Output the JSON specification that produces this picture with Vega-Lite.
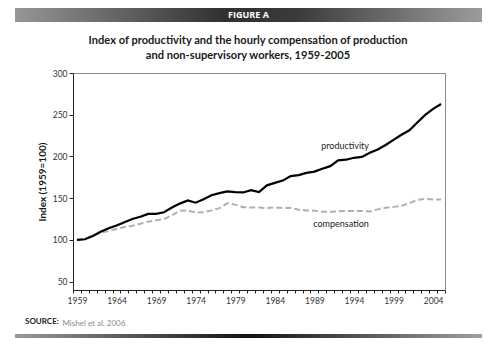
{
  "$schema": "https://vega.github.io/schema/vega-lite/v6.json",
  "padding": {"left": 15, "top": 8, "right": 0, "bottom": 0},
  "background": "white",
  "config": {"font": "Lato", "view": {"stroke": null}},
  "datasets": {
    "series": [
      {"year": 1959, "productivity": 100, "compensation": 100},
      {"year": 1960, "productivity": 100.8, "compensation": 100.8},
      {"year": 1961, "productivity": 104.7, "compensation": 105.5},
      {"year": 1962, "productivity": 109.7, "compensation": 108.5},
      {"year": 1963, "productivity": 114, "compensation": 110.8},
      {"year": 1964, "productivity": 117.3, "compensation": 113.1},
      {"year": 1965, "productivity": 121.2, "compensation": 115.4},
      {"year": 1966, "productivity": 125, "compensation": 117},
      {"year": 1967, "productivity": 127.7, "compensation": 119.3},
      {"year": 1968, "productivity": 131.2, "compensation": 121.9},
      {"year": 1969, "productivity": 131.2, "compensation": 123.5},
      {"year": 1970, "productivity": 133.1, "compensation": 125},
      {"year": 1971, "productivity": 138.9, "compensation": 129.6},
      {"year": 1972, "productivity": 143.5, "compensation": 135},
      {"year": 1973, "productivity": 147.3, "compensation": 135.4},
      {"year": 1974, "productivity": 144.6, "compensation": 132.7},
      {"year": 1975, "productivity": 148.8, "compensation": 133.1},
      {"year": 1976, "productivity": 153.5, "compensation": 135.4},
      {"year": 1977, "productivity": 156.1, "compensation": 138.1},
      {"year": 1978, "productivity": 158.1, "compensation": 143.8},
      {"year": 1979, "productivity": 157.3, "compensation": 142.3},
      {"year": 1980, "productivity": 156.9, "compensation": 139.2},
      {"year": 1981, "productivity": 159.6, "compensation": 138.9},
      {"year": 1982, "productivity": 157.3, "compensation": 138.8},
      {"year": 1983, "productivity": 165.4, "compensation": 138.1},
      {"year": 1984, "productivity": 168.4, "compensation": 138.9},
      {"year": 1985, "productivity": 171.1, "compensation": 138.1},
      {"year": 1986, "productivity": 176.5, "compensation": 138.5},
      {"year": 1987, "productivity": 177.6, "compensation": 136.2},
      {"year": 1988, "productivity": 180.3, "compensation": 135.4},
      {"year": 1989, "productivity": 181.9, "compensation": 135},
      {"year": 1990, "productivity": 185.3, "compensation": 133.9},
      {"year": 1991, "productivity": 188.4, "compensation": 133.9},
      {"year": 1992, "productivity": 195.3, "compensation": 134.2},
      {"year": 1993, "productivity": 196.1, "compensation": 134.6},
      {"year": 1994, "productivity": 198.4, "compensation": 134.6},
      {"year": 1995, "productivity": 199.5, "compensation": 134.6},
      {"year": 1996, "productivity": 204.5, "compensation": 134.2},
      {"year": 1997, "productivity": 208.4, "compensation": 136.6},
      {"year": 1998, "productivity": 213.7, "compensation": 138.5},
      {"year": 1999, "productivity": 219.9, "compensation": 139.6},
      {"year": 2000, "productivity": 226, "compensation": 140.8},
      {"year": 2001, "productivity": 231.4, "compensation": 143.9},
      {"year": 2002, "productivity": 240.6, "compensation": 148.1},
      {"year": 2003, "productivity": 249.8, "compensation": 149.2},
      {"year": 2004, "productivity": 257.1, "compensation": 148.4},
      {"year": 2005, "productivity": 262.9, "compensation": 148.4}
    ]
  },
  "bounds": "flush",
  "spacing": 44,
  "vconcat": [
    {
      "width": 467,
      "height": 14,
      "data": {"values": [{"label": "FIGURE A"}]},
      "layer": [
        {
          "mark": {
            "type": "rect",
            "color": {
              "gradient": "linear",
              "stops": [
                {"offset": 0, "color": "#969696"},
                {"offset": 0.45, "color": "#303030"},
                {"offset": 0.6, "color": "#3a3a3a"},
                {"offset": 1, "color": "#9c9c9c"}
              ]
            }
          },
          "encoding": {}
        },
        {
          "mark": {"type": "text", "color": "white", "fontWeight": "bold", "fontSize": 9, "font": "Open Sans"},
          "encoding": {"text": {"field": "label"}}
        }
      ]
    },
    {
      "width": 430,
      "height": 224,
      "title": {
        "text": ["Index of productivity and the hourly compensation of production", "and non-supervisory workers, 1959-2005"],
        "fontSize": 11.1,
        "fontWeight": "bold",
        "color": "#1a1a1a",
        "lineHeight": 15,
        "anchor": "middle",
        "dx": 18,
        "offset": 5
      },
      "data": {"name": "series"},
      "resolve": {"axis": {"x": "independent", "y": "independent"}},
      "layer": [
        {
          "mark": {"type": "line", "color": "#b0b0b0", "strokeWidth": 2, "strokeDash": [6, 3]},
          "encoding": {
            "x": {
              "field": "year",
              "type": "ordinal",
              "bandPosition": 0.5,
              "scale": {"type": "band", "paddingInner": 0, "paddingOuter": 0, "range": [58, 430]},
              "axis": {
                "title": "Mishel et al. 2006.",
                "titleFontSize": 8,
                "titleFontWeight": "normal",
                "titleColor": "#8a8a8a",
                "titleAlign": "left",
                "titleBaseline": "alphabetic",
                "titleX": 47,
                "titleY": 35,
                "labelAngle": 0,
                "labelExpr": "(datum.value - 1959) % 5 === 0 ? datum.label : ''",
                "labelOverlap": false,
                "labelFontSize": 8.5,
                "labelColor": "#333",
                "labelPadding": 3,
                "tickBand": "extent",
                "tickSize": 3,
                "tickColor": "#222",
                "domainColor": "#222"
              }
            },
            "y": {
              "field": "compensation",
              "type": "quantitative",
              "scale": {"domain": [50, 300], "range": [224, 7]},
              "axis": {
                "title": "Index (1959=100)",
                "titleFontSize": 10,
                "titleFontWeight": "bold",
                "titleColor": "#1a1a1a",
                "titlePadding": 5,
                "offset": -58,
                "values": [50, 100, 150, 200, 250, 300],
                "grid": false,
                "labelFontSize": 8.5,
                "labelColor": "#333",
                "labelPadding": 2,
                "tickSize": 4,
                "tickColor": "#222",
                "domainColor": "#222"
              }
            }
          }
        },
        {
          "mark": {"type": "line", "color": "#000", "strokeWidth": 2.2},
          "encoding": {
            "x": {
              "field": "year",
              "type": "ordinal",
              "bandPosition": 0.5,
              "axis": {"orient": "top", "offset": -7, "labels": false, "ticks": false, "title": null, "domainColor": "#8a8a8a"}
            },
            "y": {
              "field": "productivity",
              "type": "quantitative",
              "axis": {"orient": "right", "labels": false, "ticks": false, "title": null, "grid": false, "domainColor": "#8a8a8a"}
            }
          }
        },
        {
          "transform": [{"filter": "datum.year === 1993"}],
          "mark": {"type": "text", "dy": -14, "dx": -1, "fontSize": 9, "color": "#222"},
          "encoding": {
            "x": {"field": "year", "type": "ordinal", "bandPosition": 0.5, "axis": null},
            "y": {"field": "productivity", "type": "quantitative", "axis": null},
            "text": {"value": "productivity"}
          }
        },
        {
          "transform": [{"filter": "datum.year === 1993"}],
          "mark": {"type": "text", "dy": 13, "dx": -5, "fontSize": 9, "color": "#222"},
          "encoding": {
            "x": {"field": "year", "type": "ordinal", "bandPosition": 0.5, "axis": null},
            "y": {"field": "compensation", "type": "quantitative", "axis": null},
            "text": {"value": "compensation"}
          }
        }
      ]
    },
    {
      "width": 467,
      "height": 4,
      "data": {"values": [{"k": 1}]},
      "title": {
        "text": "SOURCE:",
        "fontSize": 8,
        "fontWeight": "bold",
        "color": "#222",
        "anchor": "start",
        "dx": 10,
        "offset": 8
      },
      "mark": {
        "type": "rect",
        "color": {
          "gradient": "linear",
          "stops": [
            {"offset": 0, "color": "#9a9a9a"},
            {"offset": 0.5, "color": "#111111"},
            {"offset": 1, "color": "#a0a0a0"}
          ]
        }
      },
      "encoding": {}
    }
  ]
}
